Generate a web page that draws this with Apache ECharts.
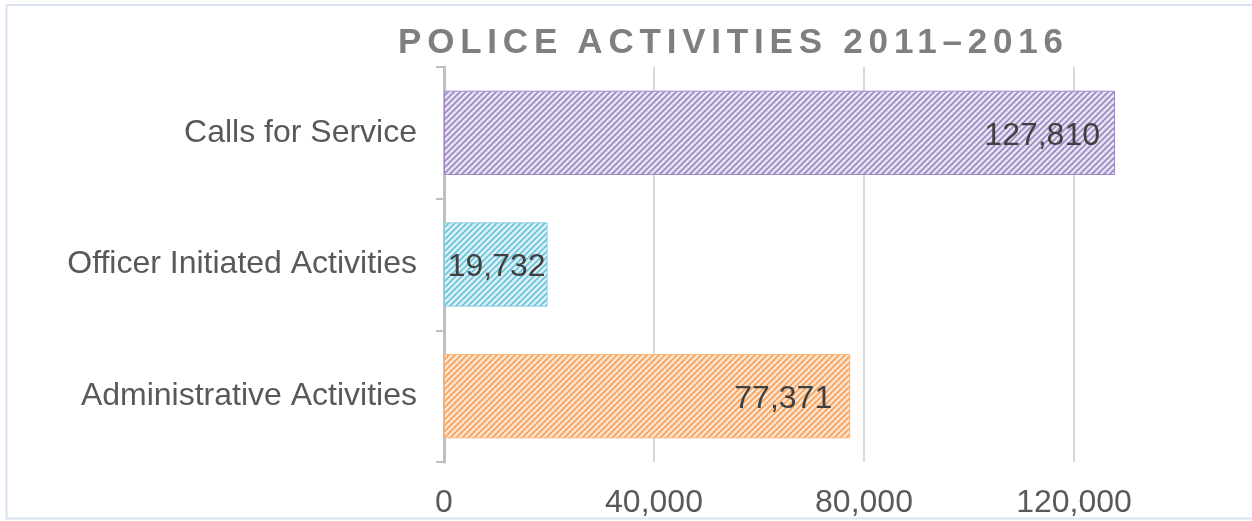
<!DOCTYPE html>
<html>
<head>
<meta charset="utf-8">
<script src="https://cdn.jsdelivr.net/npm/echarts@6/dist/echarts.min.js"></script>
<style>
  html, body { margin: 0; padding: 0; background: #ffffff; overflow: hidden; }
  #wrap { position: relative; width: 1252px; height: 521px; overflow: hidden; }
  /* the plot runs on past the right edge of the frame */
  #chart { position: absolute; left: 0; top: 0; width: 1320px; height: 521px; }
  #title {
    position: absolute; left: 398px; top: 23px;
    font-family: "Liberation Sans", Arial, sans-serif; font-weight: bold;
    font-size: 35px; line-height: 35px; letter-spacing: 5.8px;
    color: #7f7f7f; white-space: nowrap;
  }
</style>
</head>
<body>
<div id="wrap">
  <div id="chart"></div>
  <div id="title">POLICE ACTIVITIES 2011–2016</div>
</div>
<script>
// Activity totals, 2011–2016
const categories = ['Calls for Service', 'Officer Initiated Activities', 'Administrative Activities'];
const activityCounts = [127810, 19732, 77371];
const valueTickLabels = [0, 40000, 80000, 120000];

// Hatch colours per bar: [light stripe, dark stripe, edge]
const hatchColors = [
  ['#e8e2f1', '#9c87c6', '#9e88c6'],
  ['#dbf1f7', '#6ac1da', '#8ccde0'],
  ['#fde4ce', '#f6a05a', '#f8b47c']
];
// Gap between a value label and the end of its bar
const labelGaps = [15, 2, 18];

function hatch(light, dark) {
  const c = document.createElement('canvas');
  c.width = 6; c.height = 6;
  const g = c.getContext('2d');
  g.fillStyle = light;
  g.fillRect(0, 0, 6, 6);
  g.strokeStyle = dark;
  g.lineWidth = 1.6;
  g.beginPath();
  g.moveTo(0, 6); g.lineTo(6, 0);
  g.moveTo(-1, 1); g.lineTo(1, -1);
  g.moveTo(5, 7); g.lineTo(7, 5);
  g.stroke();
  return { image: c, repeat: 'repeat' };
}

const fmt = v => v.toLocaleString('en-US');
const FONT = '"Liberation Sans", Arial, sans-serif';

const chart = echarts.init(document.getElementById('chart'), null, { renderer: 'canvas' });
chart.setOption({
  animation: false,
  backgroundColor: '#ffffff',
  textStyle: { fontFamily: FONT },
  graphic: [{
    type: 'rect', z: -10,
    shape: { x: 6.5, y: 5, width: 1400, height: 513.5 },
    style: { fill: 'none', stroke: '#dae3f3', lineWidth: 2 }
  }],
  grid: { left: 444, right: 36, top: 67, bottom: 59, containLabel: false },
  xAxis: {
    type: 'value', min: 0, max: 160000, interval: 40000,
    axisLine: { show: false }, axisTick: { show: false },
    splitLine: { show: true, lineStyle: { color: '#d9d9d9', width: 2 } },
    axisLabel: {
      margin: 25, fontSize: 32, color: '#595959', fontFamily: FONT,
      showMaxLabel: false,
      formatter: v => valueTickLabels.includes(v) ? fmt(v) : ''
    }
  },
  yAxis: {
    type: 'category', data: categories, inverse: true,
    axisLine: { show: true, lineStyle: { color: '#bfbfbf', width: 3 } },
    axisTick: { show: true, length: 8, lineStyle: { color: '#bfbfbf', width: 2 } },
    axisLabel: {
      margin: 27, fontSize: 32, color: '#595959', fontFamily: FONT,
      padding: [6, 0, 0, 0]
    }
  },
  series: [{
    type: 'bar',
    barCategoryGap: '36%',
    data: activityCounts.map((v, i) => ({
      value: v,
      itemStyle: {
        color: hatch(hatchColors[i][0], hatchColors[i][1]),
        borderColor: hatchColors[i][2], borderWidth: 1
      },
      label: { distance: labelGaps[i] }
    })),
    label: {
      show: true, position: 'insideRight', offset: [0, 3],
      fontSize: 32, color: '#404040', fontFamily: FONT,
      formatter: p => fmt(p.value)
    }
  }]
});
</script>
</body>
</html>
